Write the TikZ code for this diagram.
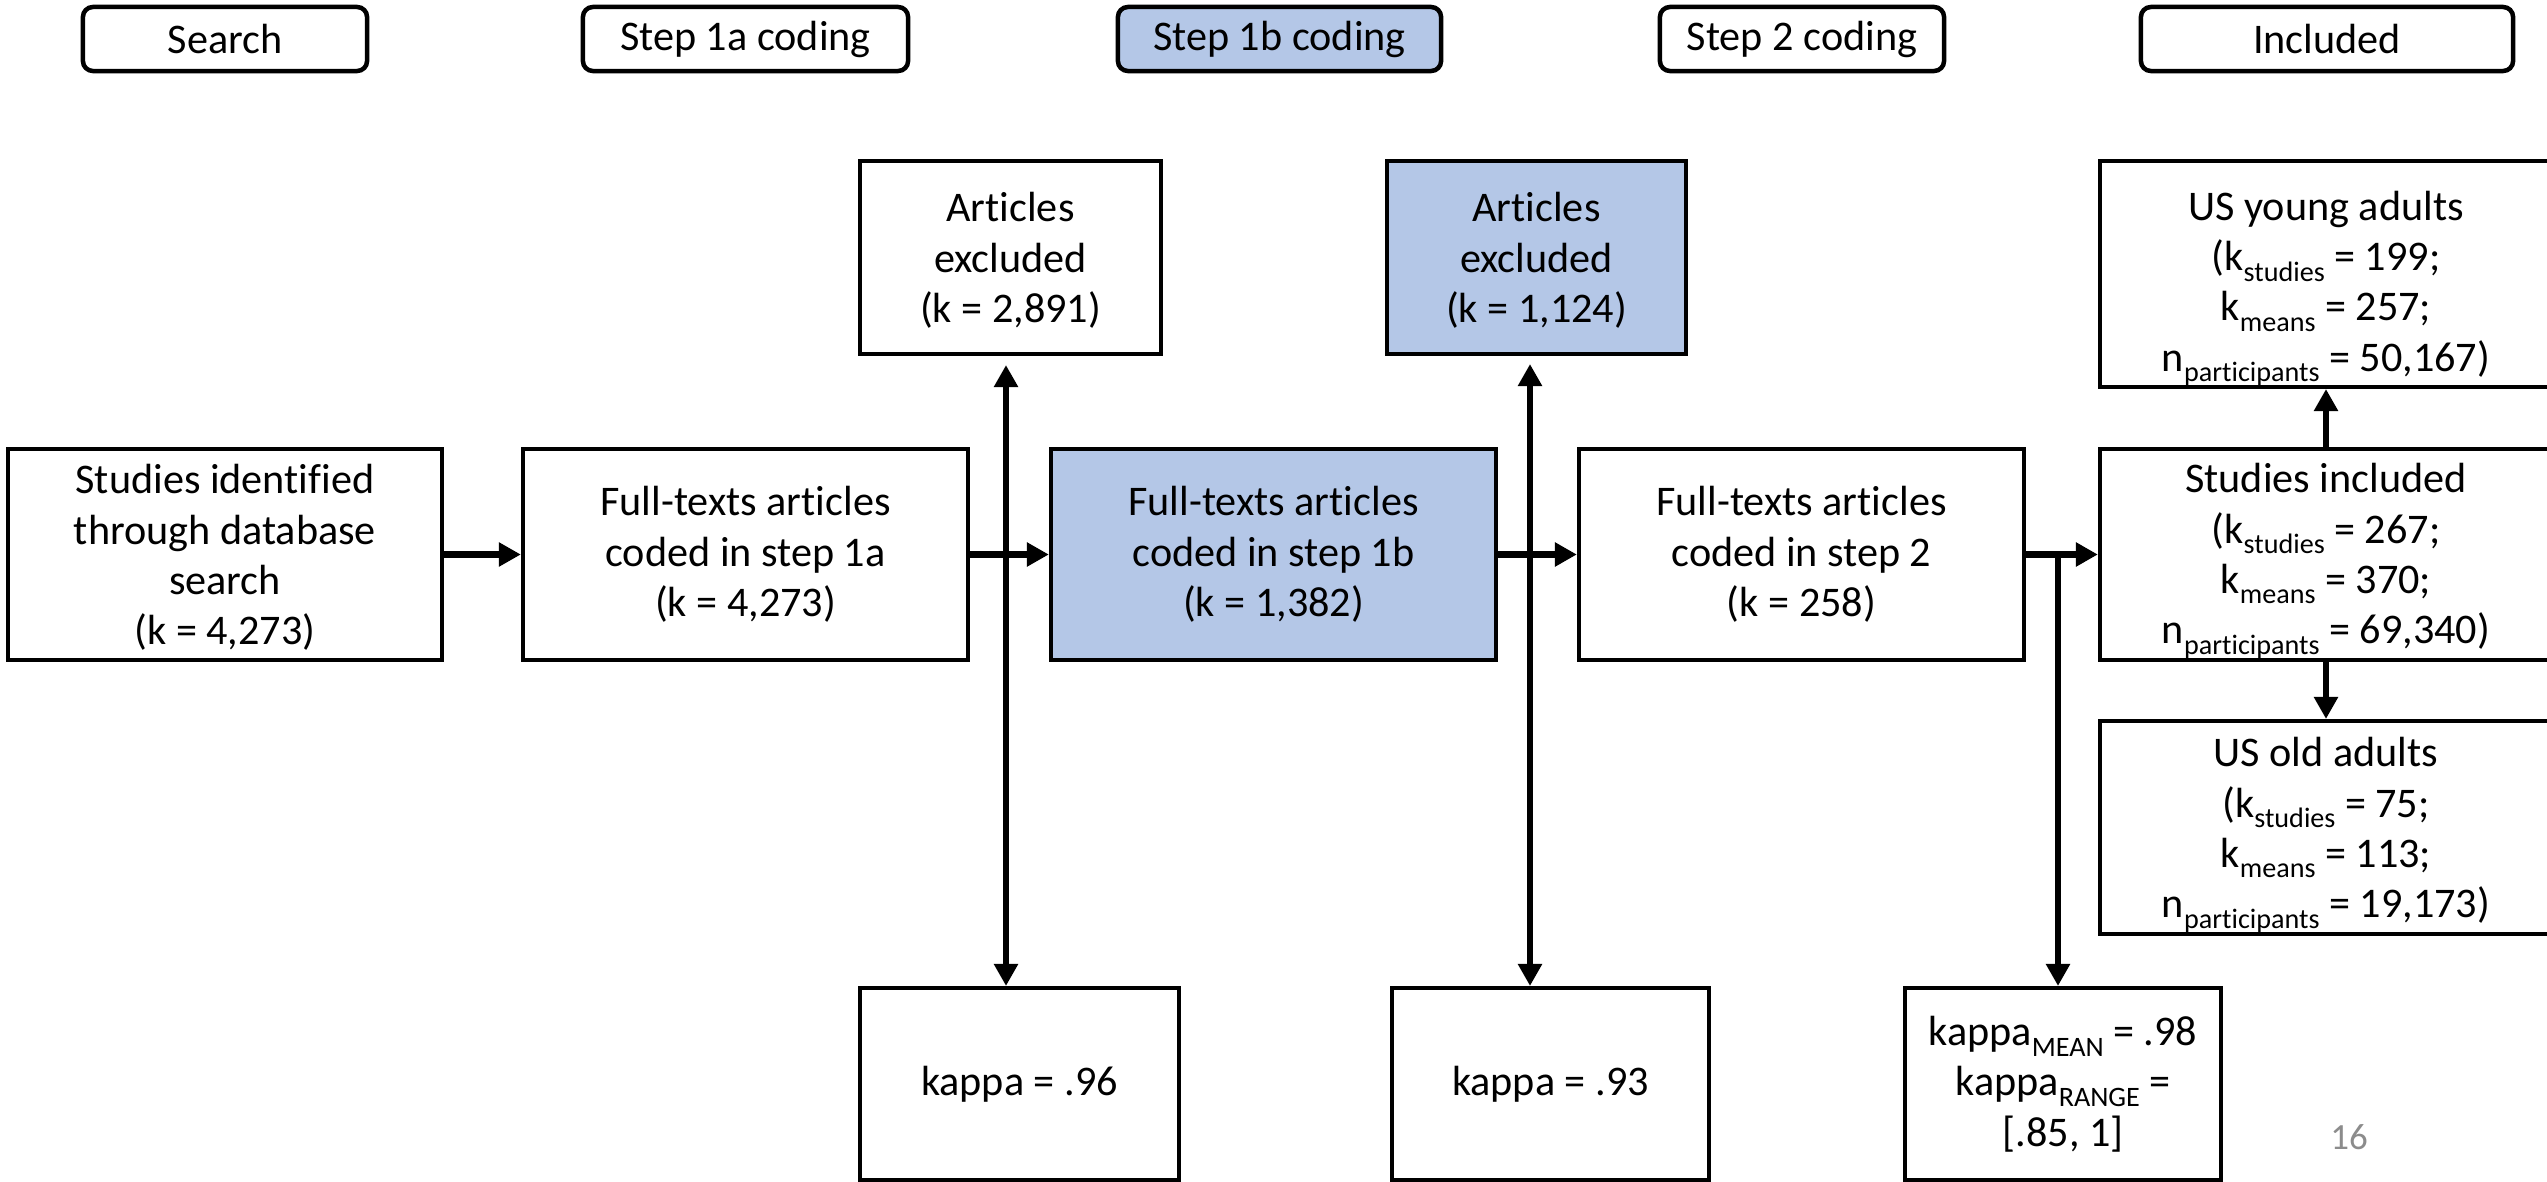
\documentclass[tikz,border=0pt]{standalone}
\usepackage{fontspec}
\setmainfont{Carlito}[Ligatures=CommonOff]
\usetikzlibrary{arrows.meta}
\definecolor{lblue}{HTML}{B4C7E7}
\definecolor{pggray}{HTML}{8C8C8C}
\newcommand{\lowsub}[1]{\raisebox{-3pt}[0pt][0pt]{\fontsize{8}{8}\selectfont #1}}
\begin{document}
\begin{tikzpicture}[x=0.01cm,y=-0.01cm,
  box/.style={draw=black, line width=0.04cm, fill=white, align=center, inner sep=0pt,
    font=\fontsize{12}{14.3}\selectfont},
  txt/.style={align=center, inner sep=0pt, font=\fontsize{12}{14.3}\selectfont},
  hdr/.style={box, rounded corners=0.1cm, line width=0.045cm, minimum height=0.64cm},
  hl/.style={fill=lblue},
  arr/.style={line width=0.06cm, -{Triangle[length=0.22cm,width=0.23cm]}},
  harr/.style={arr, line width=0.07cm},
  dbl/.style={line width=0.06cm, {Triangle[length=0.22cm,width=0.23cm]}-{Triangle[length=0.22cm,width=0.23cm]}}]
\useasboundingbox (0,0) rectangle (2547,1182);

% header boxes
\node[hdr, minimum width=2.84cm] (hsearch) at (225,39) {Search};
\node[hdr, minimum width=3.25cm] (h1a) at (745.5,39) {Step 1a coding};
\node[hdr, hl, minimum width=3.23cm] (h1b) at (1279.5,39) {Step 1b coding};
\node[hdr, minimum width=2.84cm] (h2) at (1802,39) {Step 2 coding};
\node[hdr, minimum width=3.72cm] (hinc) at (2327,39) {Included};

% main row
\node[box, minimum width=4.34cm, minimum height=2.11cm] (ident) at (225,554.5) {};
\node[txt] (identtxt) at ([yshift=-0.03cm]ident.center)
  {Studies identified\\through database\\search\\(k = 4,273)};
\node[box, minimum width=4.45cm, minimum height=2.11cm] (c1a) at (745.5,554.5)
  {Full-texts articles\\coded in step 1a\\(k = 4,273)};
\node[box, hl, minimum width=4.45cm, minimum height=2.11cm] (c1b) at (1273.5,554.5)
  {Full-texts articles\\coded in step 1b\\(k = 1,382)};
\node[box, minimum width=4.45cm, minimum height=2.11cm] (c2) at (1801.5,554.5)
  {Full-texts articles\\coded in step 2\\(k = 258)};
\node[box, minimum width=4.52cm, minimum height=2.11cm] (incl) at (2326,554.5) {};
\node[txt] (incltxt) at ([yshift=-0.02cm]incl.center)
  {Studies included\\(k\lowsub{studies} = 267;\\k\lowsub{means} = 370;\\n\lowsub{participants} = 69,340)};

% upper row
\node[box, minimum width=3.01cm, minimum height=1.93cm] (ex1) at (1010.5,257.5) {};
\node[txt] (ex1txt) at ([yshift=-0.03cm]ex1.center) {Articles\\excluded\\(k = 2,891)};
\node[box, hl, minimum width=2.99cm, minimum height=1.93cm] (ex2) at (1536.5,257.5) {};
\node[txt] (ex2txt) at ([yshift=-0.03cm]ex2.center) {Articles\\excluded\\(k = 1,124)};
\node[box, minimum width=4.52cm, minimum height=2.26cm] (young) at (2326,274) {};
\node[txt] (youngtxt) at ([yshift=-0.10cm]young.center)
  {US young adults\\(k\lowsub{studies} = 199;\\k\lowsub{means} = 257;\\n\lowsub{participants} = 50,167)};

% lower row
\node[box, minimum width=4.52cm, minimum height=2.13cm] (old) at (2326,827.5) {};
\node[txt] (oldtxt) at ([yshift=-0.03cm]old.center)
  {US old adults\\(k\lowsub{studies} = 75;\\k\lowsub{means} = 113;\\n\lowsub{participants} = 19,173)};
\node[box, minimum width=3.19cm, minimum height=1.92cm] (k1) at (1019.5,1084)
  {kappa = .96};
\node[box, minimum width=3.17cm, minimum height=1.92cm] (k2) at (1550.5,1084)
  {kappa = .93};
\node[box, minimum width=3.16cm, minimum height=1.92cm] (k3) at (2063,1084)
  {kappa\lowsub{MEAN} = .98\\kappa\lowsub{RANGE} =\\{[.85, 1]}};

\node[text=pggray, font=\fontsize{10.5}{12}\selectfont, inner sep=0pt] (pg) at (2349,1137) {16};

% connectors
\coordinate (v1) at (1006,554);
\coordinate (v2) at (1530,554);
\coordinate (v3) at (2058,554);
\draw[dbl, shorten <=0.09cm] (ex1.south -| v1) -- (k1.north -| v1);
\draw[dbl, shorten <=0.08cm] (ex2.south -| v2) -- (k2.north -| v2);
\draw[harr] (ident.east) -- (c1a.west);
\draw[harr] (c1a.east) -- (c1b.west);
\draw[harr] (c1b.east) -- (c2.west);
\draw[harr] (c2.east) -- (incl.west);
\draw[arr] (v3) -- (k3.north -| v3);
\draw[arr] (incl.north) -- (young.south);
\draw[arr] (incl.south) -- (old.north);
\end{tikzpicture}
\end{document}
